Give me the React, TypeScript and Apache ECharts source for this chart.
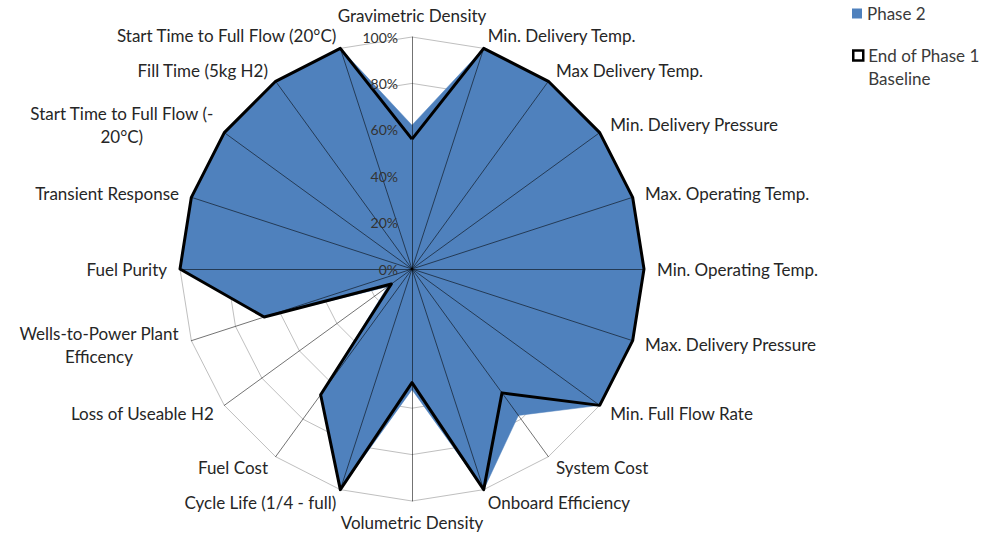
import React, { useEffect, useRef } from "react";
import * as echarts from "echarts";

// Indicators listed clockwise starting at the top
const indicatorNames: string[] = [
  "Gravimetric Density",
  "Min. Delivery Temp.",
  "Max Delivery Temp.",
  "Min. Delivery Pressure",
  "Max. Operating Temp.",
  "Min. Operating Temp.",
  "Max. Delivery Pressure",
  "Min. Full Flow Rate",
  "System Cost",
  "Onboard Efficiency",
  "Volumetric Density",
  "Cycle Life (1/4 - full)",
  "Fuel Cost",
  "Loss of Useable H2",
  "Wells-to-Power Plant\nEfficency",
  "Fuel Purity",
  "Transient Response",
  "Start Time to Full Flow (-\n20°C)",
  "Fill Time (5kg H2)",
  "Start Time to Full Flow (20°C)",
];

const phase2Values: number[] = [
  62, 100, 100, 100, 100, 100, 100, 100, 78, 100,
  52, 100, 67, 13, 67, 100, 100, 100, 100, 100,
];

const baselineValues: number[] = [
  56, 100, 100, 100, 100, 100, 100, 100, 66, 100,
  49, 100, 67, 11, 67, 100, 100, 100, 100, 100,
];

const seriesNames: string[] = ["Phase 2", "End of Phase 1 Baseline"];

const BLUE = "#4f81bd";
const FONT = "Lato, 'Open Sans', sans-serif";
const NAME_SIZE = 17;

function measure(text: string, size: number): number {
  const c = document.createElement("canvas").getContext("2d");
  if (!c) return text.length * size * 0.5;
  c.font = `${size}px Lato`;
  return c.measureText(text).width;
}

// ECharts radar runs counter-clockwise; reorder so that the list above reads clockwise
const order: number[] = [0, ...indicatorNames.slice(1).map((_, k) => indicatorNames.length - 1 - k)];

export default function App() {
  const ref = useRef<HTMLDivElement>(null);
  useEffect(() => {
    if (!ref.current) return;
    const chart = echarts.init(ref.current, undefined, { renderer: "svg" });

    const names = order.map((i) => indicatorNames[i]);
    const p2 = order.map((i) => phase2Values[i]);
    const base = order.map((i) => baselineValues[i]);

    const rich: Record<string, any> = {};
    const nameFormatter = (name: string) => {
      if (!name.includes("\n")) return name;
      const lines = name.split("\n");
      const w = Math.ceil(Math.max(...lines.map((l) => measure(l, NAME_SIZE))));
      const key = "w" + w;
      rich[key] = {
        width: w,
        align: "center",
        fontSize: NAME_SIZE,
        fontFamily: FONT,
        color: "#262626",
        lineHeight: 23,
      };
      return lines.map((l) => `{${key}|${l}}`).join("\n");
    };
    names.forEach((n) => nameFormatter(n));

    const common = {
      center: [412, 269],
      radius: 232,
      startAngle: 90,
      shape: "polygon" as const,
      splitNumber: 5,
    };

    chart.setOption({
      animation: false,
      backgroundColor: "#ffffff",
      textStyle: { fontFamily: FONT },
      legend: [
        {
          orient: "vertical",
          left: 847,
          top: 0,
          icon: "rect",
          itemWidth: 10,
          itemHeight: 10,
          selectedMode: false,
          data: [{ name: seriesNames[0], itemStyle: { color: BLUE } }],
          textStyle: { fontSize: 17, color: "#3a3a3a", fontFamily: FONT },
        },
        {
          orient: "vertical",
          left: 847,
          top: 16,
          icon: "rect",
          itemWidth: 10,
          itemHeight: 10,
          selectedMode: false,
          formatter: () => "\nEnd of Phase 1\nBaseline",
          data: [
            {
              name: seriesNames[1],
              itemStyle: { color: "#ffffff", borderColor: "#000000", borderWidth: 2.5 },
            },
          ],
          textStyle: {
            fontSize: 17,
            color: "#3a3a3a",
            fontFamily: FONT,
            lineHeight: 23,
          },
        },
      ],
      radar: [
        {
          ...common,
          z: 0,
          indicator: names.map((n) => ({ name: n, min: 0, max: 100 })),
          nameGap: 13,
          axisName: {
            color: "#262626",
            fontSize: NAME_SIZE,
            fontFamily: FONT,
            formatter: nameFormatter,
            rich,
          },
          axisLine: { show: false },
          axisTick: { show: false },
          axisLabel: { show: false },
          splitLine: { show: true, lineStyle: { color: "#bfbfbf", width: 1 } },
          splitArea: { show: false },
        },
        {
          ...common,
          z: 3,
          indicator: names.map((n, i) =>
            i === 0
              ? {
                  name: n,
                  min: 0,
                  max: 100,
                  axisLabel: {
                    show: true,
                    formatter: "{value}%",
                    color: "#333333",
                    fontSize: 14,
                    fontFamily: FONT,
                    margin: 14,
                  },
                }
              : { name: n, min: 0, max: 100 }
          ),
          axisName: { show: false },
          axisLine: { show: true, lineStyle: { color: "rgba(0,0,0,0.55)", width: 1 } },
          axisTick: { show: false },
          axisLabel: { show: false },
          splitLine: { show: false },
          splitArea: { show: false },
        },
      ],
      series: [
        {
          type: "radar",
          radarIndex: 0,
          z: 2,
          silent: true,
          data: [
            {
              name: seriesNames[0],
              value: p2,
              symbol: "none",
              itemStyle: { color: BLUE },
              lineStyle: { color: BLUE, width: 0.5 },
              areaStyle: { color: BLUE, opacity: 1 },
            },
            {
              name: seriesNames[1],
              value: base,
              symbol: "none",
              itemStyle: { color: "#000000" },
              lineStyle: { color: "#000000", width: 3 },
            },
          ],
        },
      ],
    });
    return () => chart.dispose();
  }, []);
  return (
    <div
      ref={ref}
      style={{ position: "fixed", left: 0, top: 0, width: 990, height: 535 }}
    />
  );
}
